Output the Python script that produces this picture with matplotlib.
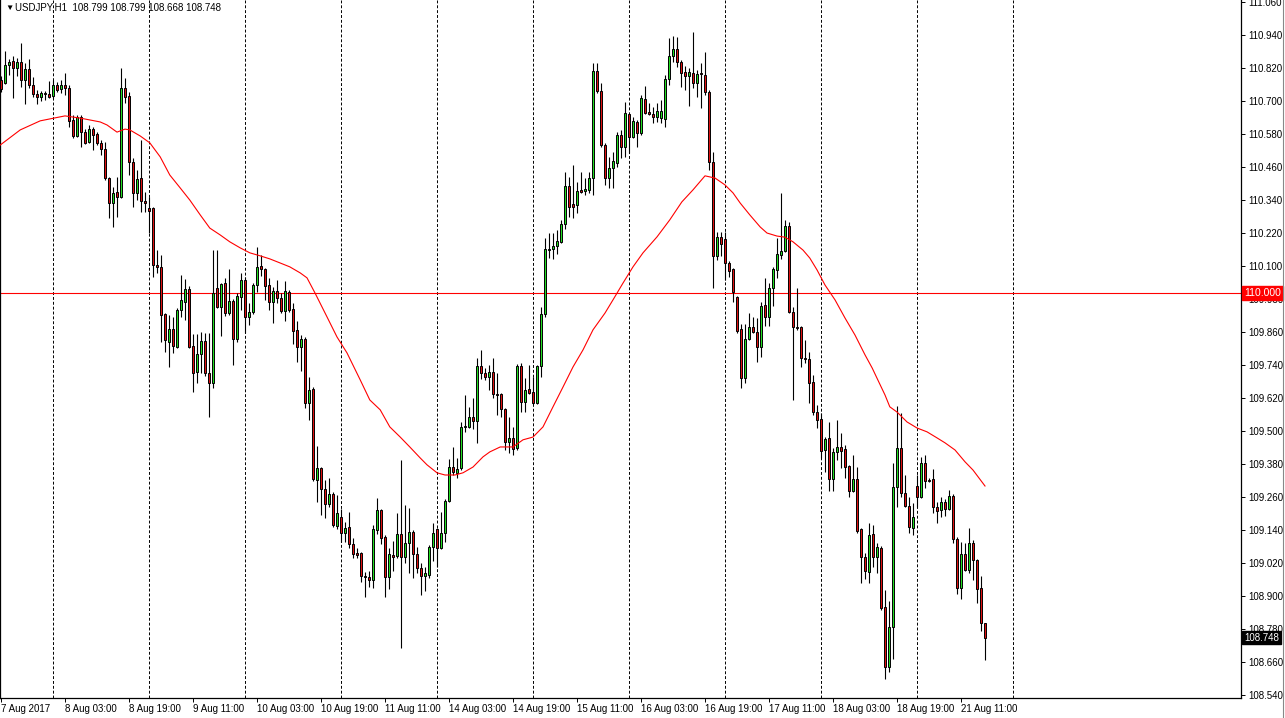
import matplotlib
matplotlib.use('Agg')
import matplotlib.pyplot as plt
import matplotlib.transforms as mtransforms
from matplotlib.lines import Line2D
import numpy as np
import pandas as pd

plt.rcParams['font.family'] = ['Liberation Sans', 'DejaVu Sans']

symbol = 'USDJPY,H1'
first_bar = '2017-08-07 11:00'
level = 110.000

o = [110.776, 110.765, 110.830, 110.845, 110.819, 110.841, 110.776, 110.816, 110.758, 110.725,
     110.714, 110.728, 110.725, 110.717, 110.758, 110.743, 110.758, 110.747, 110.630, 110.572,
     110.641, 110.587, 110.550, 110.598, 110.579, 110.546, 110.525, 110.419, 110.328, 110.368,
     110.350, 110.747, 110.717, 110.477, 110.365, 110.419, 110.336, 110.310, 110.310, 110.103,
     110.096, 109.925, 109.823, 109.870, 109.805, 109.939, 109.968, 110.016, 109.808, 109.714,
     109.779, 109.827, 109.710, 109.674, 110.019, 109.950, 110.037, 109.928, 109.972, 109.834,
     109.987, 110.048, 109.914, 109.932, 110.030, 110.099, 110.088, 110.030, 109.968, 110.008,
     109.983, 109.936, 110.005, 109.943, 109.867, 109.805, 109.834, 109.601, 109.652, 109.321,
     109.365, 109.288, 109.234, 109.270, 109.154, 109.187, 109.128, 109.150, 109.088, 109.056,
     109.056, 108.972, 108.968, 108.957, 109.139, 109.212, 109.114, 108.968, 109.048, 109.045,
     109.125, 109.041, 109.092, 109.132, 109.052, 109.001, 108.972, 108.976, 109.077, 109.143,
     109.074, 109.128, 109.245, 109.368, 109.347, 109.365, 109.514, 109.514, 109.550, 109.536,
     109.736, 109.710, 109.696, 109.714, 109.634, 109.634, 109.579, 109.459, 109.474, 109.437,
     109.736, 109.605, 109.652, 109.641, 109.601, 109.736, 109.925, 110.157, 110.161, 110.172,
     110.186, 110.252, 110.390, 110.325, 110.321, 110.376, 110.372, 110.376, 110.419, 110.808,
     110.736, 110.539, 110.419, 110.456, 110.474, 110.576, 110.532, 110.652, 110.568, 110.623,
     110.583, 110.707, 110.659, 110.652, 110.641, 110.637, 110.634, 110.779, 110.863, 110.888,
     110.841, 110.805, 110.790, 110.801, 110.765, 110.801, 110.794, 110.732, 110.477, 110.136,
     110.205, 110.197, 110.110, 110.088, 109.987, 109.870, 109.692, 109.834, 109.877, 109.859,
     109.805, 109.957, 109.914, 110.019, 110.085, 110.139, 110.154, 110.245, 109.932, 109.877,
     109.877, 109.765, 109.761, 109.677, 109.568, 109.543, 109.430, 109.474, 109.325, 109.423,
     109.441, 109.434, 109.372, 109.281, 109.325, 109.143, 109.041, 108.986, 109.125, 109.041,
     109.074, 108.859, 108.641, 108.786, 109.296, 109.437, 109.274, 109.226, 109.146, 109.299,
     109.259, 109.383, 109.321, 109.325, 109.223, 109.212, 109.241, 109.215, 109.263, 109.107,
     108.928, 109.052, 108.994, 109.092, 109.030, 108.928, 108.799]

h = [110.791, 110.881, 110.852, 110.863, 110.856, 110.910, 110.837, 110.852, 110.787, 110.739,
     110.736, 110.736, 110.772, 110.776, 110.768, 110.776, 110.801, 110.758, 110.648, 110.648,
     110.648, 110.598, 110.612, 110.605, 110.587, 110.557, 110.550, 110.423, 110.387, 110.423,
     110.819, 110.783, 110.732, 110.492, 110.448, 110.557, 110.368, 110.350, 110.314, 110.157,
     110.139, 109.928, 109.921, 109.914, 109.946, 110.067, 110.052, 110.026, 109.852, 109.852,
     109.859, 109.856, 109.856, 110.157, 110.157, 110.037, 110.055, 110.088, 109.979, 110.001,
     110.074, 110.059, 109.965, 110.037, 110.168, 110.139, 110.092, 110.055, 110.023, 110.048,
     110.001, 110.045, 110.012, 109.965, 109.899, 109.848, 109.841, 109.696, 109.659, 109.445,
     109.368, 109.321, 109.328, 109.277, 109.266, 109.215, 109.168, 109.205, 109.110, 109.074,
     109.059, 108.986, 108.990, 109.157, 109.256, 109.215, 109.121, 109.074, 109.099, 109.201,
     109.394, 109.230, 109.219, 109.139, 109.077, 109.019, 109.005, 109.085, 109.165, 109.146,
     109.205, 109.252, 109.397, 109.441, 109.401, 109.532, 109.630, 109.587, 109.619, 109.765,
     109.794, 109.728, 109.739, 109.765, 109.710, 109.637, 109.583, 109.550, 109.514, 109.743,
     109.747, 109.692, 109.739, 109.696, 109.739, 109.950, 110.201, 110.219, 110.219, 110.230,
     110.266, 110.441, 110.423, 110.466, 110.405, 110.441, 110.419, 110.441, 110.837, 110.837,
     110.765, 110.546, 110.496, 110.514, 110.587, 110.594, 110.696, 110.656, 110.641, 110.630,
     110.721, 110.754, 110.692, 110.678, 110.692, 110.703, 110.794, 110.928, 110.936, 110.932,
     110.848, 110.826, 110.819, 110.950, 110.812, 110.837, 110.877, 110.739, 110.514, 110.223,
     110.223, 110.223, 110.117, 110.092, 109.990, 109.888, 109.888, 109.928, 109.914, 109.910,
     109.968, 110.055, 110.037, 110.095, 110.201, 110.365, 110.266, 110.259, 109.950, 110.019,
     109.881, 109.830, 109.787, 109.703, 109.594, 109.565, 109.477, 109.532, 109.437, 109.539,
     109.492, 109.448, 109.376, 109.412, 109.368, 109.146, 109.056, 109.165, 109.157, 109.092,
     109.081, 108.921, 108.881, 109.383, 109.590, 109.565, 109.339, 109.259, 109.237, 109.339,
     109.405, 109.412, 109.328, 109.361, 109.241, 109.259, 109.252, 109.285, 109.270, 109.114,
     109.096, 109.092, 109.146, 109.103, 109.034, 108.972, 108.799]

l = [110.732, 110.761, 110.794, 110.710, 110.790, 110.750, 110.688, 110.747, 110.714, 110.688,
     110.699, 110.703, 110.710, 110.710, 110.732, 110.728, 110.721, 110.605, 110.565, 110.568,
     110.532, 110.543, 110.546, 110.521, 110.539, 110.503, 110.412, 110.274, 110.241, 110.277,
     110.346, 110.692, 110.430, 110.314, 110.339, 110.296, 110.296, 110.219, 110.059, 110.074,
     109.823, 109.787, 109.732, 109.783, 109.801, 109.914, 109.903, 109.801, 109.641, 109.674,
     109.710, 109.699, 109.550, 109.656, 109.946, 109.845, 109.917, 109.921, 109.739, 109.823,
     109.939, 109.856, 109.885, 109.925, 110.005, 110.063, 109.976, 109.939, 109.892, 109.965,
     109.928, 109.899, 109.932, 109.816, 109.750, 109.717, 109.583, 109.539, 109.318, 109.241,
     109.194, 109.183, 109.223, 109.150, 109.143, 109.096, 109.096, 109.074, 109.037, 109.037,
     108.950, 108.896, 108.932, 108.928, 109.125, 109.088, 108.896, 108.925, 108.990, 109.037,
     108.710, 109.019, 108.983, 108.965, 108.983, 108.903, 108.917, 108.965, 109.026, 109.005,
     109.070, 109.096, 109.241, 109.339, 109.328, 109.357, 109.496, 109.510, 109.507, 109.456,
     109.688, 109.685, 109.648, 109.619, 109.557, 109.550, 109.430, 109.419, 109.412, 109.430,
     109.568, 109.568, 109.634, 109.597, 109.597, 109.696, 109.914, 110.128, 110.124, 110.143,
     110.183, 110.234, 110.277, 110.274, 110.292, 110.365, 110.357, 110.365, 110.357, 110.728,
     110.532, 110.394, 110.383, 110.383, 110.459, 110.492, 110.496, 110.510, 110.565, 110.532,
     110.576, 110.652, 110.648, 110.619, 110.623, 110.619, 110.605, 110.758, 110.841, 110.823,
     110.750, 110.739, 110.681, 110.747, 110.714, 110.674, 110.721, 110.448, 110.019, 110.121,
     110.136, 110.048, 110.059, 109.968, 109.856, 109.656, 109.674, 109.830, 109.856, 109.750,
     109.768, 109.881, 109.881, 109.954, 110.055, 110.124, 110.150, 109.928, 109.612, 109.867,
     109.732, 109.747, 109.601, 109.557, 109.510, 109.401, 109.350, 109.281, 109.281, 109.394,
     109.365, 109.328, 109.259, 109.277, 109.128, 108.946, 108.961, 108.946, 109.005, 108.983,
     108.848, 108.597, 108.623, 108.670, 109.223, 109.259, 109.223, 109.128, 109.121, 109.223,
     109.256, 109.292, 109.314, 109.201, 109.165, 109.187, 109.190, 109.212, 109.092, 108.906,
     108.888, 108.990, 108.983, 108.957, 108.874, 108.772, 108.668]

c = [110.743, 110.830, 110.841, 110.819, 110.841, 110.776, 110.816, 110.758, 110.725, 110.714,
     110.728, 110.725, 110.714, 110.758, 110.739, 110.758, 110.747, 110.626, 110.572, 110.641,
     110.587, 110.546, 110.598, 110.576, 110.546, 110.525, 110.419, 110.328, 110.365, 110.350,
     110.747, 110.714, 110.477, 110.365, 110.416, 110.336, 110.328, 110.299, 110.103, 110.096,
     109.921, 109.830, 109.870, 109.808, 109.939, 109.976, 110.016, 109.805, 109.710, 109.779,
     109.827, 109.710, 109.674, 110.001, 109.950, 110.034, 109.928, 109.972, 109.834, 109.990,
     110.048, 109.914, 109.932, 110.030, 110.096, 110.088, 110.026, 109.968, 110.008, 109.983,
     109.936, 110.008, 109.939, 109.863, 109.805, 109.834, 109.601, 109.648, 109.325, 109.365,
     109.288, 109.234, 109.270, 109.157, 109.201, 109.128, 109.146, 109.088, 109.052, 109.048,
     108.972, 108.968, 108.957, 109.143, 109.212, 109.110, 108.968, 109.052, 109.041, 109.125,
     109.041, 109.092, 109.132, 109.052, 109.001, 108.972, 108.983, 109.077, 109.128, 109.074,
     109.128, 109.245, 109.368, 109.350, 109.361, 109.514, 109.517, 109.550, 109.536, 109.736,
     109.710, 109.696, 109.714, 109.634, 109.630, 109.579, 109.459, 109.474, 109.434, 109.736,
     109.605, 109.648, 109.637, 109.601, 109.736, 109.925, 110.161, 110.161, 110.172, 110.190,
     110.252, 110.390, 110.314, 110.314, 110.372, 110.368, 110.379, 110.419, 110.808, 110.736,
     110.539, 110.419, 110.456, 110.481, 110.576, 110.532, 110.656, 110.568, 110.627, 110.583,
     110.710, 110.656, 110.652, 110.641, 110.663, 110.663, 110.779, 110.863, 110.888, 110.841,
     110.801, 110.790, 110.805, 110.765, 110.797, 110.797, 110.732, 110.477, 110.136, 110.205,
     110.179, 110.110, 110.081, 110.005, 109.863, 109.692, 109.834, 109.877, 109.859, 109.805,
     109.954, 109.914, 110.019, 110.088, 110.143, 110.154, 110.245, 109.932, 109.877, 109.874,
     109.765, 109.761, 109.674, 109.568, 109.539, 109.427, 109.470, 109.325, 109.423, 109.441,
     109.427, 109.368, 109.281, 109.325, 109.136, 109.041, 108.990, 109.121, 109.041, 109.077,
     108.856, 108.641, 108.786, 109.296, 109.437, 109.274, 109.226, 109.150, 109.187, 109.259,
     109.383, 109.317, 109.317, 109.223, 109.208, 109.241, 109.215, 109.263, 109.107, 108.928,
     109.052, 108.994, 109.092, 109.030, 108.925, 108.801, 108.748]

# moving average (bar index, value)
ma_bar = [-0.2, 4.8, 9.8, 16, 19.8, 24.8, 26.5, 29, 31, 32.2, 34.8, 37.2, 39.8, 42.2, 44.8,
          47.2, 49.8, 52.2, 54.8, 57.2, 59.8, 62.2, 64.8, 67.2, 69.8, 72.2, 74.8, 76.5, 78.5,
          81.5, 84, 86.5, 89.8, 92.2, 94.8, 97.2, 99.8, 102.2, 104.8, 106.5, 109, 111, 113.5,
          115.5, 118, 120.5, 122.2, 124.8, 128, 130.5, 133, 135.5, 138, 140.5, 143, 145.5, 148,
          151, 153, 155.5, 158, 160.5, 164, 167.2, 170.2, 173, 176, 178.5, 181, 183, 184.8,
          187.2, 189.8, 191.5, 194, 196, 198, 200.5, 202.2, 204, 206, 208.5, 211, 213.5, 216,
          217.8, 219.2, 221, 222.2, 224, 226.5, 229, 231.5, 234, 236, 238.5, 241, 243, 246]
ma_val = [110.539, 110.594, 110.627, 110.645, 110.637, 110.623, 110.612, 110.586, 110.597,
          110.594, 110.572, 110.547, 110.496, 110.430, 110.383, 110.339, 110.285, 110.237,
          110.212, 110.187, 110.165, 110.147, 110.136, 110.125, 110.110, 110.096, 110.074,
          110.056, 110.001, 109.914, 109.841, 109.783, 109.685, 109.612, 109.576, 109.514,
          109.477, 109.441, 109.401, 109.376, 109.347, 109.339, 109.339, 109.347, 109.368,
          109.405, 109.423, 109.441, 109.441, 109.467, 109.477, 109.514, 109.587, 109.659,
          109.732, 109.794, 109.867, 109.928, 109.976, 110.037, 110.096, 110.147, 110.205,
          110.267, 110.332, 110.376, 110.427, 110.419, 110.394, 110.365, 110.328, 110.285,
          110.241, 110.219, 110.208, 110.204, 110.187, 110.157, 110.128, 110.085, 110.030,
          109.976, 109.910, 109.848, 109.776, 109.728, 109.685, 109.630, 109.587, 109.568,
          109.532, 109.510, 109.496, 109.474, 109.456, 109.430, 109.387, 109.357, 109.299]

price_ticks = [round(108.54 + 0.12 * k, 3) for k in range(22)]

n = len(c)
o, h, l, c = (np.array(v) for v in (o, h, l, c))
x = np.arange(n)

# hourly bars, weekends skipped
t = pd.date_range(first_bar, periods=400, freq='h')
t = t[t.dayofweek < 5][:n + 8]

fs = 7

fig = plt.figure(figsize=(12.85, 7.18), dpi=100)
ax = fig.add_axes([0, 20 / 718, 1241 / 1285, 698 / 718])

# day separators
for i, ts in enumerate(t):
    if ts.hour == 0:
        ax.axvline(i, color='black', lw=0.7, ls=(0, (3, 2)), zorder=1)

ax.axhline(level, color='#ff0000', lw=0.8, zorder=2)

up = c >= o
ax.vlines(x, l, h, color='black', lw=0.8, zorder=3)
ax.bar(x[up], (c - o)[up], bottom=o[up], width=0.55, color='#22dd22',
       edgecolor='black', linewidth=0.7, zorder=4)
ax.bar(x[~up], (o - c)[~up], bottom=c[~up], width=0.55, color='#dd1111',
       edgecolor='black', linewidth=0.7, zorder=4)

ax.plot(ma_bar, ma_val, color='#ff0000', lw=0.8, zorder=5)

ax.set_xlim(-0.25, 310)
ax.set_ylim(108.528, 111.0665)

ax.spines['top'].set_visible(False)
for s in ('left', 'bottom', 'right'):
    ax.spines[s].set_linewidth(0.9)

ax.yaxis.tick_right()
ax.set_yticks(price_ticks)
ax.set_yticklabels([f'{p:.3f}' for p in price_ticks])
ax.tick_params(axis='y', length=3, width=0.7, pad=2, labelsize=fs)

lab_idx = list(range(0, n, 16))
labs = []
for i in lab_idx:
    ts = t[i]
    if i == 0:
        labs.append(f'{ts.day} {ts.strftime("%b")} {ts.year}')
    else:
        labs.append(f'{ts.day} {ts.strftime("%b")} {ts.strftime("%H:%M")}')
ax.set_xticks(lab_idx)
ax.set_xticklabels(labs, ha='left')
ax.tick_params(axis='x', length=3, width=0.7, pad=1.5, labelsize=fs)

# price boxes on the right scale
tr = mtransforms.blended_transform_factory(ax.transAxes, ax.transData)
ax.annotate(f'{level:.3f}', xy=(1, level), xycoords=tr, xytext=(3, 0),
            textcoords='offset pixels', ha='left', va='center', fontsize=fs + 0.5,
            color='white', annotation_clip=False, zorder=10,
            bbox=dict(boxstyle='square,pad=0.2', fc='#ff0000', ec='#ff0000'))
ax.annotate(f'{c[-1]:.3f}', xy=(1, c[-1]), xycoords=tr, xytext=(3, 0),
            textcoords='offset pixels', ha='left', va='center', fontsize=fs,
            color='white', annotation_clip=False, zorder=10,
            bbox=dict(boxstyle='square,pad=0.2', fc='black', ec='black'))

fig.text(5 / 1285, 1 - 8 / 718, '▼', fontsize=6, va='center', ha='left')
fig.text(15 / 1285, 1 - 8 / 718,
         f'{symbol}  {o[-1]:.3f} {h[-1]:.3f} {l[-1]:.3f} {c[-1]:.3f}',
         fontsize=fs, va='center', ha='left')

fig.add_artist(Line2D([1283 / 1285, 1283 / 1285], [0, 1], color='#888888', lw=0.8))

fig.savefig('out.png', dpi=100)
